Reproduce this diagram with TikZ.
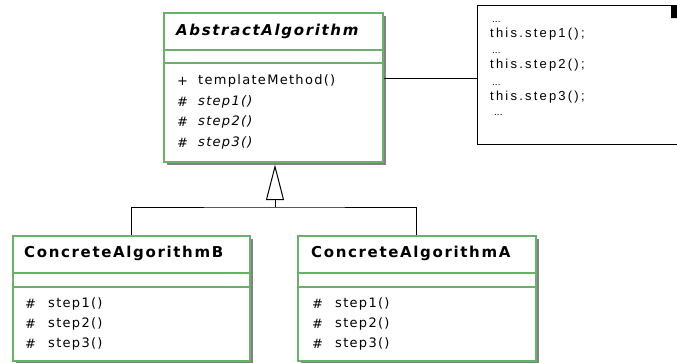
\documentclass[tikz,border=0pt]{standalone}
\usepackage{fontspec}
\usetikzlibrary{shadows}
\newfontfamily\umlfont[LetterSpace=10]{DejaVu Sans}
\newfontfamily\umltitle[LetterSpace=11]{DejaVu Sans}
\newfontfamily\notefont[LetterSpace=17]{Liberation Sans}
\newfontfamily\notedots{Liberation Sans}
\definecolor{umlgreen}{RGB}{104,178,104}
\definecolor{umlshadow}{RGB}{130,130,130}

\tikzset{
  classbox/.style={draw=umlgreen, line width=1.6pt, fill=white, inner sep=0pt,
    anchor=north west,
    drop shadow={shadow xshift=3pt, shadow yshift=-3pt, fill=umlshadow, opacity=1}},
  compartment/.style={draw=umlgreen, line width=1.4pt},
  notebox/.style={draw=black, line width=1.3pt, fill=white, inner sep=0pt, anchor=north west},
  classname/.style={inner sep=0pt, anchor=west, font=\umltitle\bfseries\fontsize{15}{17}\selectfont},
  abstractname/.style={classname, font=\umltitle\bfseries\itshape\fontsize{15}{17}\selectfont},
  member/.style={inner sep=0pt, anchor=west, font=\umlfont\fontsize{13}{15}\selectfont},
  abstractmember/.style={member, font=\umlfont\itshape\fontsize{13}{15}\selectfont},
  notetext/.style={inner sep=0pt, anchor=west, font=\notefont\fontsize{13}{15}\selectfont},
  ellipsis/.style={inner sep=0pt, anchor=west, font=\notedots\fontsize{10}{12}\selectfont},
  link/.style={draw=black, line width=1pt}
}

\begin{document}
\begin{tikzpicture}[x=1pt, y=-1pt]
\useasboundingbox (0,0) rectangle (677,362);
\clip (0,0) rectangle (677,362);
\fill[white] (0,0) rectangle (677,362);

% abstract class
\node[classbox, minimum width=219pt, minimum height=149pt] (abs) at (163,12) {};
\draw[compartment] ([yshift=-38pt]abs.north west) -- ([yshift=-38pt]abs.north east);
\draw[compartment] ([yshift=-51pt]abs.north west) -- ([yshift=-51pt]abs.north east);
\node[abstractname] (absname) at (176,31) {AbstractAlgorithm};
\node[member] (absv0) at (177,81) {+};
\node[member] (absm0) at (198,81) {templateMethod()};
\node[abstractmember] (absv1) at (177,101.5) {\#};
\node[abstractmember] (absm1) at (198,101.5) {step1()};
\node[abstractmember] (absv2) at (177,122) {\#};
\node[abstractmember] (absm2) at (198,122) {step2()};
\node[abstractmember] (absv3) at (177,143) {\#};
\node[abstractmember] (absm3) at (198,143) {step3()};

% concrete class B
\node[classbox, minimum width=237pt, minimum height=125pt] (cb) at (12,235) {};
\draw[compartment] ([yshift=-38pt]cb.north west) -- ([yshift=-38pt]cb.north east);
\draw[compartment] ([yshift=-52pt]cb.north west) -- ([yshift=-52pt]cb.north east);
\node[classname] (cbname) at (24,253) {ConcreteAlgorithmB};
\node[member] (cbv1) at (25,304) {\#};
\node[member] (cbm1) at (48,304) {step1()};
\node[member] (cbv2) at (25,324) {\#};
\node[member] (cbm2) at (48,324) {step2()};
\node[member] (cbv3) at (25,344) {\#};
\node[member] (cbm3) at (48,344) {step3()};

% concrete class A
\node[classbox, minimum width=238pt, minimum height=125pt] (ca) at (297,235) {};
\draw[compartment] ([yshift=-38pt]ca.north west) -- ([yshift=-38pt]ca.north east);
\draw[compartment] ([yshift=-52pt]ca.north west) -- ([yshift=-52pt]ca.north east);
\node[classname] (caname) at (311,253) {ConcreteAlgorithmA};
\node[member] (cav1) at (312,304) {\#};
\node[member] (cam1) at (335,304) {step1()};
\node[member] (cav2) at (312,324) {\#};
\node[member] (cam2) at (335,324) {step2()};
\node[member] (cav3) at (312,344) {\#};
\node[member] (cam3) at (335,344) {step3()};

% note attached to templateMethod
\node[notebox, minimum width=215pt, minimum height=139pt] (note) at (477,5) {};
\fill[black] (671,6) -- (672,5) -- (680,5) -- (680,18) -- (671,18) -- cycle;
\node[ellipsis] (nd1) at (492,22) {...};
\node[notetext] (ns1) at (490,34) {this.step1();};
\node[ellipsis] (nd2) at (492,53) {...};
\node[notetext] (ns2) at (490,65) {this.step2();};
\node[ellipsis] (nd3) at (492,85) {...};
\node[notetext] (ns3) at (490,97) {this.step3();};
\node[ellipsis] (nd4) at (494,115) {...};
\draw[link] ([yshift=-3.5pt]note.west) -- ([yshift=-3.5pt]note.west -| abs.east);

% generalization
\coordinate (j) at (275,207);
\coordinate (tip) at ([yshift=-4pt]j |- abs.south);
\coordinate (base) at ([yshift=-33pt]tip);
\draw[link] (cb.north) |- (j) -| (ca.north);
\draw[link] (j) -- (base);
\draw[link, fill=white, line join=miter] (tip) -- ([xshift=-8.5pt]base) -- ([xshift=8.5pt]base) -- cycle;
\end{tikzpicture}
\end{document}
